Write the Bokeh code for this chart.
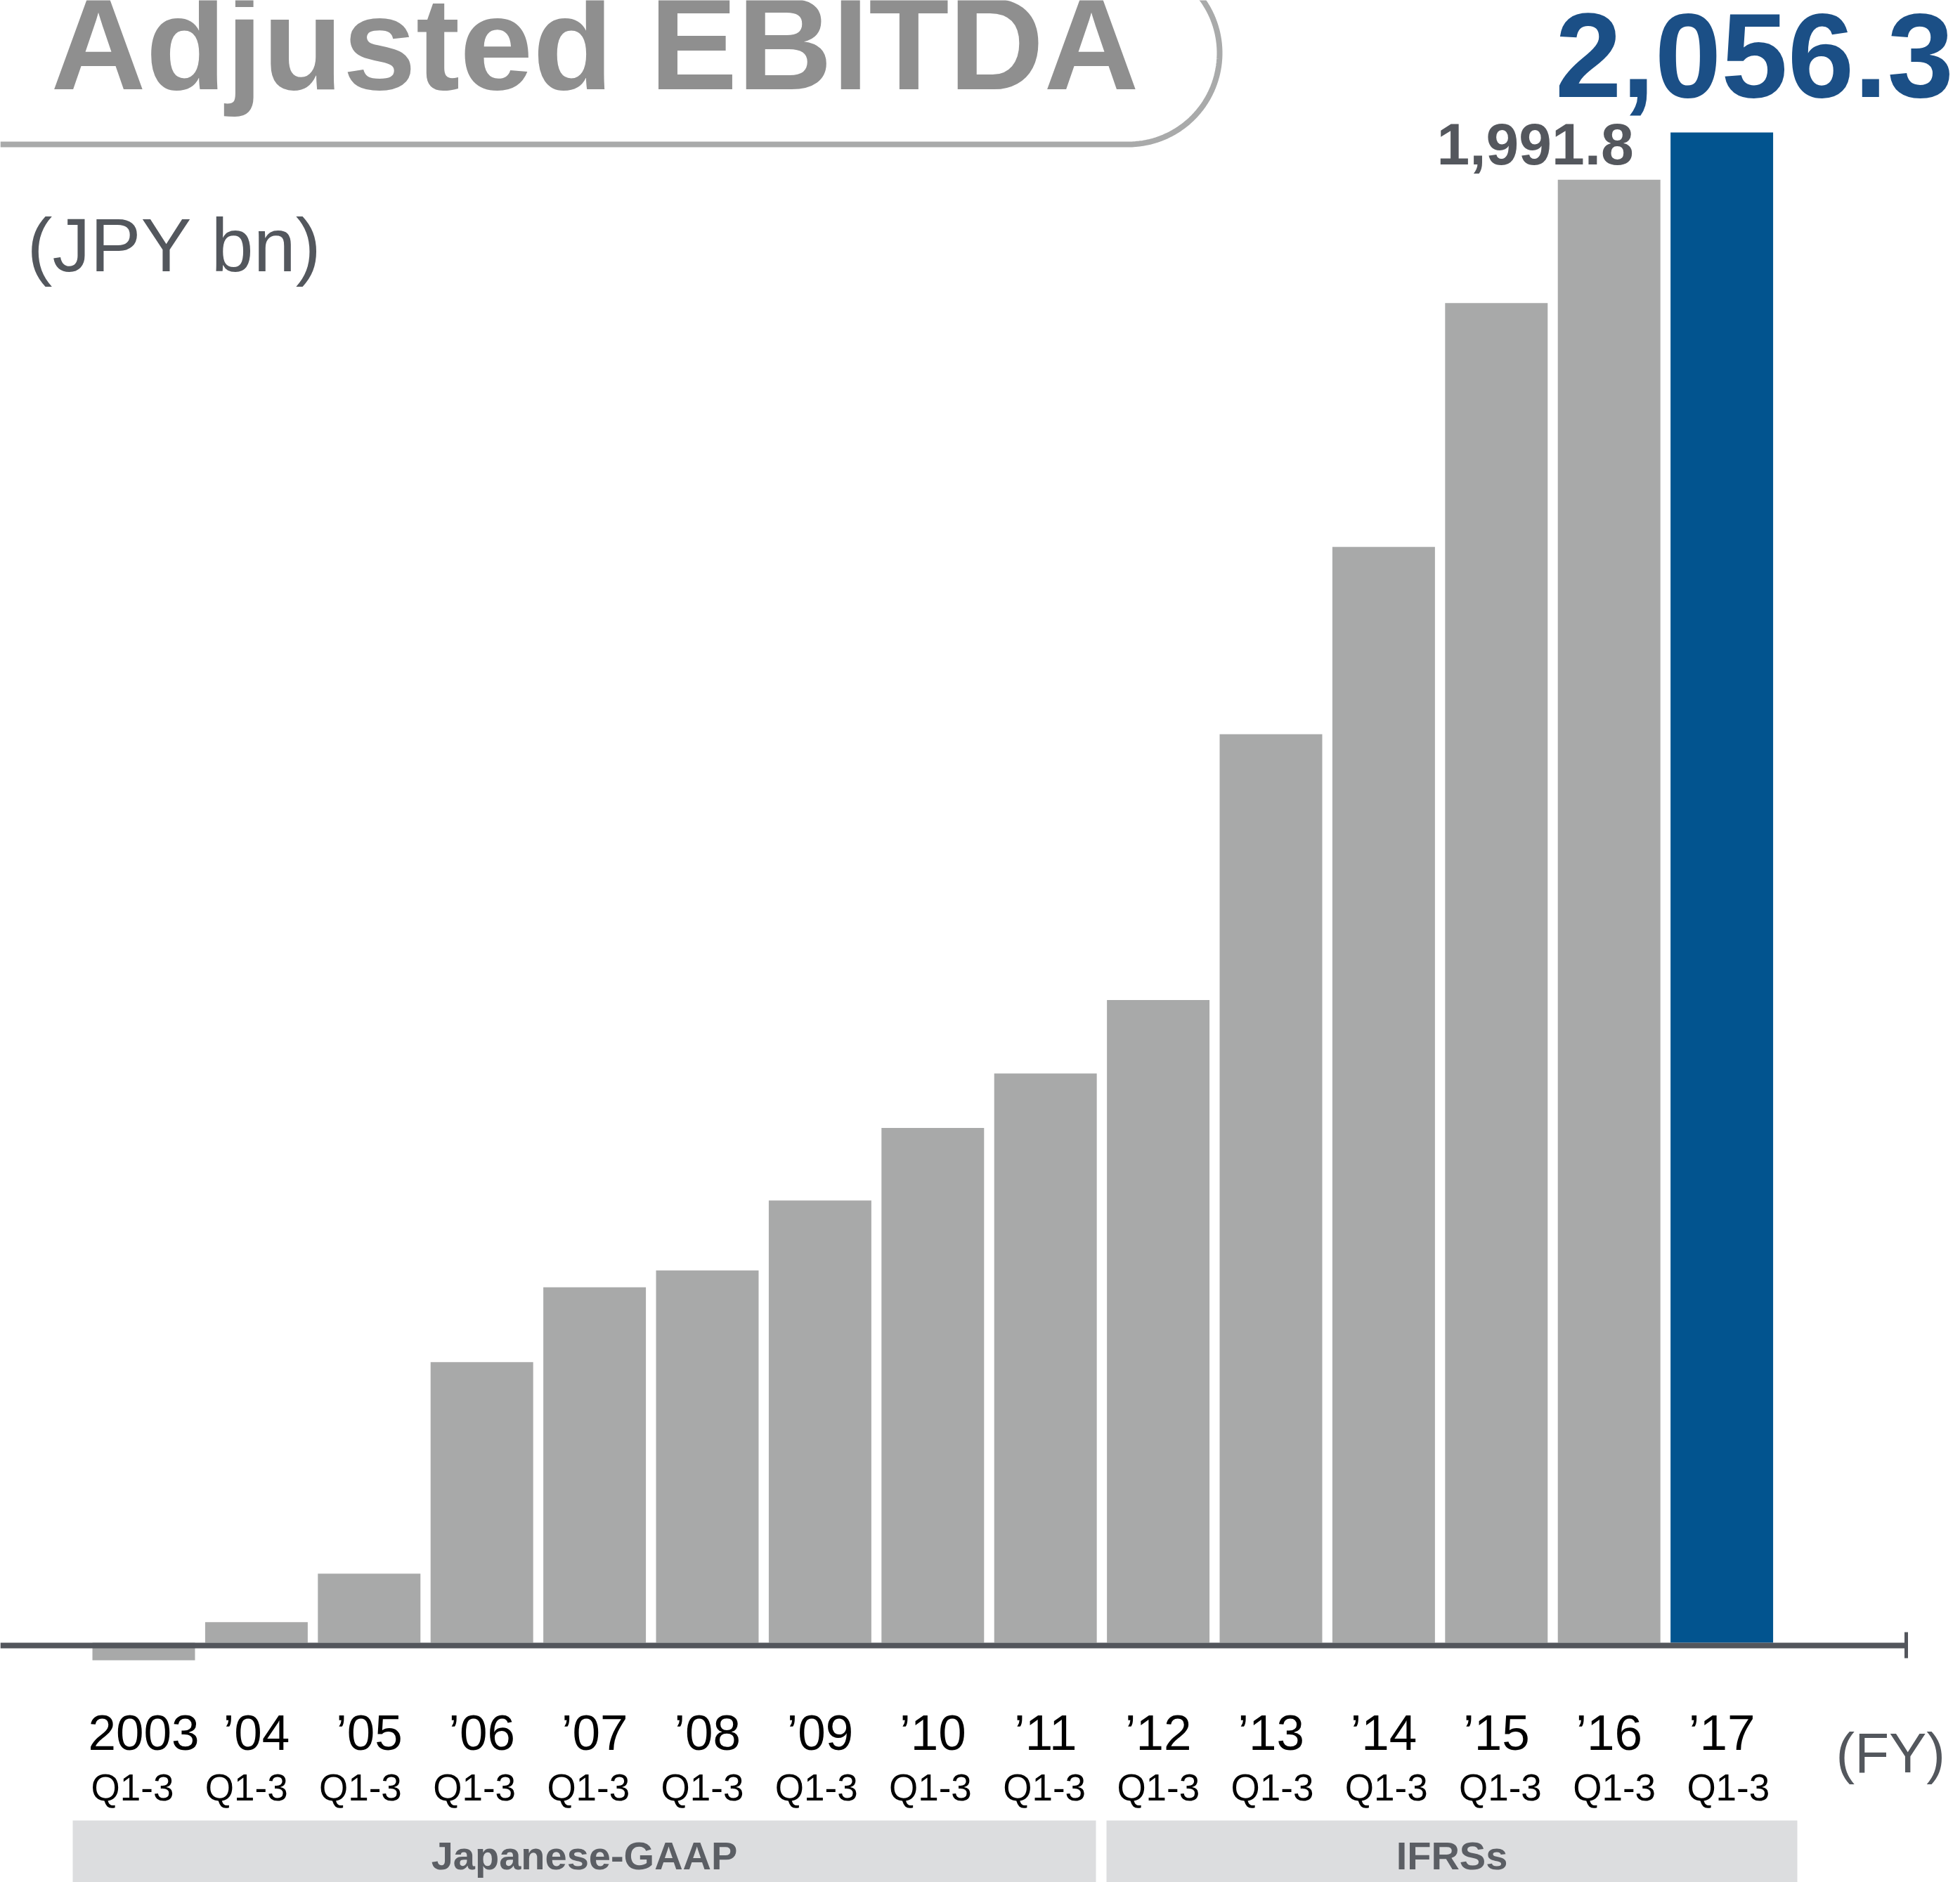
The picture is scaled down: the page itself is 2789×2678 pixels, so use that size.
import numpy as np
from bokeh.plotting import figure
from bokeh.models import Range1d, ColumnDataSource
from bokeh.core.properties import value
from bokeh.embed import file_html
from bokeh.resources import INLINE

# ---------------- data ----------------
years = ["2003", "\u201904", "\u201905", "\u201906", "\u201907", "\u201908", "\u201909",
         "\u201910", "\u201911", "\u201912", "\u201913", "\u201914", "\u201915", "\u201916", "\u201917"]
periods = ["Q1-3"] * 15
ebitda = [-24, 28, 94, 382, 484, 507, 602, 701, 775, 875, 1237, 1492, 1824, 1991.8, 2056.3]
standards = ["Japanese-GAAP", "IFRSs"]
title = "Adjusted EBITDA"
unit_label = "(JPY bn)"
axis_label = "(FY)"

# ---------------- layout (pixels) ----------------
W, H = 2789, 2678
X0, PITCH = 204.0, 160.4        # pixel centre of first bar, bar pitch
BASE, K = 2337.0, 1.0451        # pixel y of value 0, pixels per JPY bn
SHIFT = 0.35                    # baseline correction (fraction of font size)

def px2x(px):
    return (px - X0) / PITCH

def py2y(py):
    return (BASE - py) / K

GRAY, BLUE = "#a8a9a9", "#02548f"
colors = [GRAY] * (len(ebitda) - 1) + [BLUE]
idx = list(range(len(ebitda)))

p = figure(width=W, height=H, x_range=Range1d(px2x(0), px2x(W)),
           y_range=Range1d(py2y(H), py2y(0)), output_backend="svg",
           toolbar_location=None, x_axis_location=None, y_axis_location=None,
           min_border=0, outline_line_color=None,
           background_fill_color="white", border_fill_color="white")
p.xgrid.grid_line_color = None
p.ygrid.grid_line_color = None

# bars
src = ColumnDataSource(dict(x=idx, top=ebitda, color=colors))
p.vbar(x="x", top="top", bottom=0, width=0.91, fill_color="color",
       line_color=None, source=src)

# baseline axis line + end tick
p.segment(x0=[px2x(0)], y0=[py2y(2341)], x1=[px2x(2714)], y1=[py2y(2341)],
          line_color="#53565c", line_width=8)
p.segment(x0=[px2x(2712)], y0=[py2y(2322)], x1=[px2x(2712)], y1=[py2y(2359)],
          line_color="#53565c", line_width=5)

# title capsule outline
r, right, bottom = 130.0, 1735.0, 205.0
cx, cy = right - r, bottom - r
theta = np.linspace(np.pi / 2, -np.pi / 2, 80)
path_px = [0.0] + list(cx + r * np.cos(theta))
path_py = [bottom] + list(cy + r * np.sin(theta))
p.line([px2x(v) for v in path_px], [py2y(v) for v in path_py],
       line_color="#a9aaaa", line_width=8)

FONT = value("Liberation Sans")

def txt(x, y, text, size, color, align, bold=False, x_offset=0, y_offset=0):
    p.text(x=x, y=y, text=text, text_font=FONT,
           text_font_size=value(f"{size}px"),
           text_font_style="bold" if bold else "normal",
           text_color=color, text_align=align, text_baseline="alphabetic",
           x_offset=x_offset, y_offset=y_offset - SHIFT * size)

# title and unit
txt([px2x(72)], [py2y(127)], [title], 187, "#8f8f8f", "left", bold=True)
txt([px2x(38)], [py2y(386)], [unit_label], 108, "#53575d", "left")

# value labels for last two bars
txt([idx[-1]], [ebitda[-1]], [f"{ebitda[-1]:,.1f}"], 170, "#1b4f86", "right",
    bold=True, x_offset=330, y_offset=-50)
txt([idx[-2]], [ebitda[-2]], [f"{ebitda[-2]:,.1f}"], 84, "#54575d", "right",
    bold=True, x_offset=35, y_offset=-21)

# x tick labels (two lines)
txt(idx, [py2y(2490)] * len(idx), years, 71, "#000000", "center")
q_off = [-16 + 1.8 * i for i in idx]
txt(idx, [py2y(2562)] * len(idx), periods, 53, "#000000", "center", x_offset=q_off)
txt([px2x(2612)], [py2y(2522)], [axis_label], 80, "#53575d", "left")

# accounting-standard bands
band_px = [(103, 1559), (1574, 2557)]
lefts = [px2x(a) for a, b in band_px]
rights = [px2x(b) for a, b in band_px]
p.quad(left=lefts, right=rights, bottom=[py2y(H + 5)] * 2, top=[py2y(2590)] * 2,
       fill_color="#dcdddf", line_color=None)
txt([(a + b) / 2 for a, b in zip(lefts, rights)], [py2y(2660)] * 2, standards,
    56, "#5b5e64", "center", bold=True)

open("out.html", "w").write(file_html(p, INLINE))
